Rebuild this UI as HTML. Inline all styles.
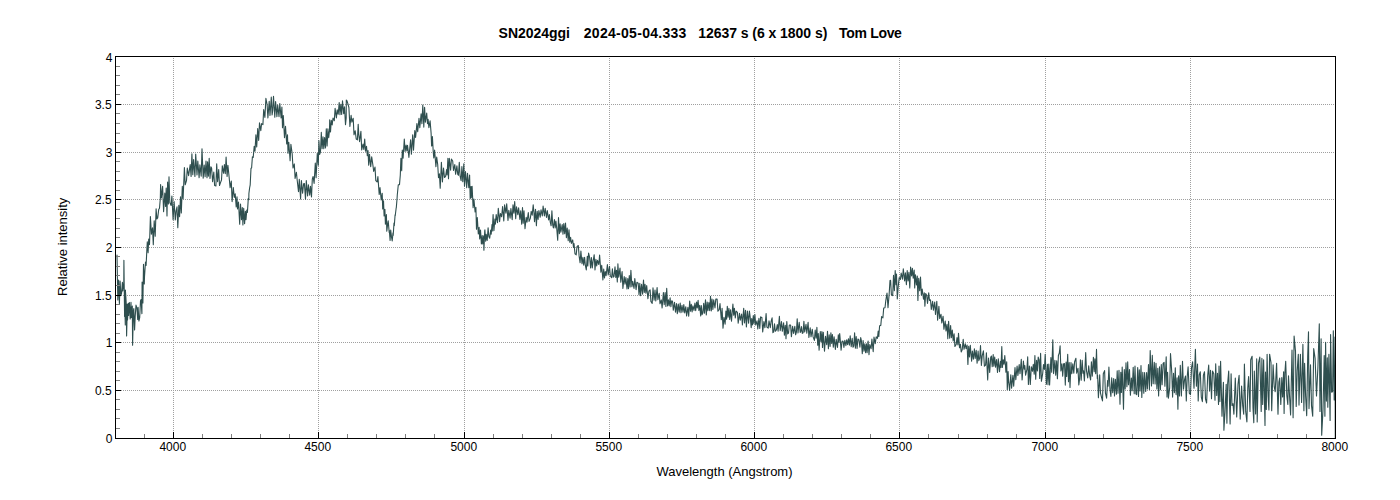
<!DOCTYPE html>
<html><head><meta charset="utf-8"><title>SN2024ggi</title>
<style>html,body{margin:0;padding:0;background:#fff;}body{width:1400px;height:500px;overflow:hidden;font-family:"Liberation Sans",sans-serif;}svg{display:block;}text{font-family:"Liberation Sans",sans-serif;fill:#000;}</style></head><body>
<svg width="1400" height="500" viewBox="0 0 1400 500">
<rect width="1400" height="500" fill="#fff"/>
<g stroke="#a0a0a0" stroke-width="1" stroke-dasharray="1 1" shape-rendering="crispEdges"><line x1="173.5" y1="58" x2="173.5" y2="438" /><line x1="318.5" y1="58" x2="318.5" y2="438" /><line x1="464.5" y1="58" x2="464.5" y2="438" /><line x1="609.5" y1="58" x2="609.5" y2="438" /><line x1="754.5" y1="58" x2="754.5" y2="438" /><line x1="899.5" y1="58" x2="899.5" y2="438" /><line x1="1045.5" y1="58" x2="1045.5" y2="438" /><line x1="1190.5" y1="58" x2="1190.5" y2="438" /><line x1="117" y1="390.5" x2="1335" y2="390.5" /><line x1="117" y1="342.5" x2="1335" y2="342.5" /><line x1="117" y1="295.5" x2="1335" y2="295.5" /><line x1="117" y1="247.5" x2="1335" y2="247.5" /><line x1="117" y1="199.5" x2="1335" y2="199.5" /><line x1="117" y1="152.5" x2="1335" y2="152.5" /><line x1="117" y1="104.5" x2="1335" y2="104.5" /></g>
<path d="M117.0 255.0 L117.8 300.0 L118.6 280.0 L119.4 303.5 L120.1 281.0 L120.9 295.6 L121.6 293.0 L122.4 282.4 L122.8 291.0 L123.8 282.1 L123.9 260.3 L124.6 316.4 L124.7 300.0 L125.3 325.0 L125.4 290.0 L126.3 304.3 L126.6 336.0 L127.4 304.0 L127.5 320.0 L128.5 303.2 L128.6 315.5 L129.4 302.5 L130.2 319.0 L131.0 302.4 L131.3 317.6 L132.3 306.0 L132.6 345.3 L133.4 310.9 L133.8 308.6 L134.6 330.0 L135.2 316.4 L136.0 305.1 L136.9 308.0 L137.7 319.5 L138.1 307.3 L138.9 321.0 L139.7 317.6 L140.5 301.0 L141.1 299.5 L141.9 313.6 L142.1 282.0 L142.9 302.9 L143.5 264.3 L144.3 284.0 L144.5 276.6 L145.5 262.0 L146.1 265.4 L146.9 249.0 L147.3 241.8 L148.1 252.8 L148.7 239.1 L149.5 244.6 L150.4 216.6 L151.4 234.2 L152.5 227.8 L153.3 244.7 L154.2 220.8 L155.2 236.2 L156.1 208.9 L156.9 219.0 L157.7 217.9 L158.7 209.6 L159.5 208.2 L160.3 198.7 L160.6 184.5 L161.4 198.0 L162.6 186.3 L163.6 211.7 L164.8 193.0 L165.6 206.4 L166.2 188.0 L167.0 215.9 L167.6 182.0 L168.4 203.9 L169.0 176.8 L169.8 202.6 L171.1 205.4 L171.9 196.0 L173.1 219.7 L174.1 201.6 L175.3 220.0 L176.1 211.0 L177.0 206.9 L177.8 227.8 L178.8 205.4 L179.6 216.6 L180.5 196.8 L181.3 213.0 L182.3 186.4 L183.1 198.8 L184.4 167.6 L185.2 184.8 L186.5 180.6 L187.3 168.1 L188.6 175.7 L189.4 170.1 L190.2 164.6 L191.1 176.4 L191.9 153.8 L192.8 174.8 L193.6 159.6 L194.9 176.4 L195.7 154.0 L197.0 174.9 L197.8 161.0 L199.1 177.8 L199.9 164.9 L201.2 176.2 L202.0 148.7 L203.2 178.3 L204.2 165.0 L205.1 176.8 L206.0 161.0 L207.0 177.8 L207.6 161.8 L208.4 176.1 L209.2 158.2 L210.0 178.4 L210.9 166.9 L211.6 168.0 L212.6 181.8 L213.8 172.0 L214.6 185.5 L215.9 186.0 L216.7 163.8 L217.6 181.8 L218.7 169.6 L219.5 185.5 L220.6 182.4 L221.5 180.0 L222.3 165.9 L223.6 173.3 L224.4 164.5 L225.3 173.6 L226.1 157.1 L227.1 176.4 L227.9 165.2 L229.1 176.8 L230.1 187.6 L231.3 181.1 L232.1 201.6 L233.3 187.6 L234.3 197.4 L235.2 193.8 L236.2 207.0 L237.0 196.8 L237.5 208.9 L238.5 202.0 L239.7 224.2 L240.5 204.0 L241.5 219.8 L242.3 207.5 L242.9 225.0 L243.7 208.2 L244.6 223.6 L245.4 211.4 L246.0 219.8 L246.8 210.0 L247.4 212.4 L248.1 201.6 L248.2 198.6 L248.8 199.7 L248.9 193.5 L249.6 188.0 L250.2 184.8 L251.0 168.3 L251.6 168.0 L252.4 156.8 L253.2 157.5 L254.2 146.2 L255.0 151.3 L255.9 134.8 L256.7 147.0 L257.7 128.6 L258.7 140.4 L259.5 122.9 L260.8 130.6 L261.6 123.6 L262.9 124.7 L263.7 109.6 L264.9 117.5 L265.9 98.4 L267.1 104.5 L267.9 118.0 L269.2 101.2 L270.0 115.4 L271.3 97.0 L272.1 114.9 L272.7 110.7 L273.5 96.3 L274.8 117.3 L275.6 101.6 L276.9 116.6 L277.7 105.1 L279.0 116.6 L279.8 103.6 L281.1 118.0 L281.9 107.1 L282.5 127.8 L283.3 115.5 L284.5 137.6 L285.5 126.4 L286.7 143.9 L287.5 134.8 L288.0 153.3 L288.8 142.3 L290.1 160.8 L290.9 144.2 L292.2 154.0 L293.0 168.0 L294.3 163.9 L295.1 178.5 L296.4 172.2 L297.2 180.3 L298.5 191.8 L299.3 179.4 L300.6 198.9 L301.4 180.6 L302.6 193.2 L303.6 183.8 L304.4 183.5 L305.5 199.1 L306.3 180.6 L307.6 195.9 L308.4 184.8 L309.7 195.2 L310.5 186.2 L311.5 197.0 L312.3 179.2 L313.1 176.5 L314.1 183.4 L315.3 163.1 L316.1 177.6 L317.3 153.4 L318.3 165.2 L318.9 140.5 L319.7 154.4 L320.5 151.9 L321.3 132.4 L322.1 148.8 L323.0 136.7 L323.8 148.6 L324.6 137.6 L325.5 147.9 L326.3 128.8 L327.1 146.0 L327.9 128.9 L328.7 137.6 L329.5 130.6 L329.7 119.8 L330.5 132.0 L331.3 120.4 L332.2 125.0 L333.0 118.0 L334.3 120.8 L335.1 108.4 L336.4 118.0 L337.2 109.9 L338.2 114.3 L339.2 102.6 L340.0 114.8 L340.8 104.3 L341.7 114.5 L342.5 100.7 L343.7 113.8 L344.5 106.9 L345.5 124.7 L346.2 117.8 L346.3 100.0 L347.0 100.9 L348.0 104.2 L348.9 107.5 L349.9 126.4 L351.1 115.2 L351.9 122.2 L353.2 118.2 L354.0 134.8 L355.2 130.7 L356.2 139.0 L357.4 139.9 L358.2 124.3 L358.8 134.8 L359.6 141.6 L360.9 131.3 L361.7 149.9 L363.0 144.0 L363.8 149.5 L364.7 139.0 L365.5 151.2 L366.5 146.3 L367.3 155.8 L368.0 150.6 L368.7 165.2 L369.5 154.4 L370.7 166.6 L371.7 156.8 L372.9 165.2 L373.7 171.4 L375.0 167.1 L375.8 180.6 L377.1 182.0 L377.9 176.5 L379.2 194.4 L380.0 187.6 L381.2 200.0 L382.2 193.2 L382.7 209.0 L383.5 200.7 L384.1 216.0 L384.9 209.2 L385.4 224.2 L386.4 214.6 L386.8 231.2 L387.8 223.0 L388.2 220.9 L389.2 232.4 L389.3 230.3 L390.1 240.5 L390.7 230.0 L391.5 236.9 L392.2 240.9 L393.0 232.9 L393.2 235.5 L394.0 223.0 L394.3 225.8 L395.1 214.8 L395.2 216.0 L396.2 207.8 L396.3 207.8 L397.1 198.0 L397.3 194.7 L398.3 184.8 L399.5 184.6 L400.3 175.0 L400.9 158.4 L401.7 170.8 L402.3 150.0 L403.1 158.1 L404.3 139.0 L405.1 151.4 L406.1 145.1 L406.9 151.0 L407.5 145.4 L408.3 151.6 L408.9 157.5 L409.7 149.0 L410.6 139.7 L411.4 154.3 L412.7 134.8 L413.5 150.1 L414.8 130.6 L415.6 137.4 L416.9 123.6 L417.7 131.8 L419.0 118.2 L419.8 127.8 L421.1 113.9 L421.9 123.6 L422.8 105.0 L423.8 127.1 L424.6 107.2 L425.4 122.2 L426.7 113.1 L427.5 123.6 L428.1 119.4 L428.9 127.6 L430.1 120.8 L431.1 133.1 L431.6 146.0 L432.4 144.2 L432.4 136.5 L433.2 151.2 L433.8 157.9 L434.6 150.0 L435.9 166.6 L436.7 157.1 L437.7 164.5 L438.5 177.7 L439.4 173.9 L440.2 188.3 L441.4 162.2 L442.4 182.0 L443.5 168.0 L444.5 177.5 L445.6 176.4 L446.6 169.6 L447.1 175.0 L447.9 158.2 L448.5 178.8 L449.3 158.2 L450.6 170.1 L451.4 159.1 L452.7 161.0 L453.5 170.5 L454.8 164.5 L455.6 174.3 L456.9 165.9 L457.7 174.2 L458.4 175.3 L459.3 162.4 L460.1 176.2 L461.1 180.6 L461.9 166.6 L462.8 181.8 L463.8 163.8 L464.5 186.1 L465.5 171.5 L466.7 187.6 L467.5 173.4 L468.8 187.8 L469.6 175.0 L470.2 198.8 L471.0 186.5 L471.3 197.7 L472.1 186.2 L473.1 207.6 L473.9 199.1 L475.1 211.9 L475.9 207.4 L476.5 229.3 L477.3 217.5 L478.3 234.0 L479.1 227.2 L479.7 238.9 L480.5 230.0 L481.4 243.9 L482.2 235.6 L482.7 244.0 L483.7 235.7 L483.9 250.3 L484.7 231.4 L484.9 229.7 L485.7 241.2 L486.2 234.4 L487.2 240.5 L488.1 227.9 L488.9 236.8 L489.7 238.2 L490.7 230.0 L491.2 234.2 L492.0 224.6 L492.3 231.0 L493.1 214.6 L493.9 230.7 L494.9 219.0 L495.4 224.1 L496.2 214.6 L497.5 222.7 L498.3 208.3 L499.6 221.6 L500.4 213.5 L501.6 216.7 L502.6 206.5 L503.8 220.9 L504.6 204.8 L505.9 213.2 L506.7 203.7 L508.0 220.5 L508.8 210.4 L510.1 218.1 L510.9 208.6 L512.2 219.7 L513.0 204.8 L513.9 213.2 L514.7 201.5 L515.7 218.8 L516.5 206.9 L517.8 214.6 L518.6 207.8 L519.9 219.5 L520.7 210.7 L521.7 224.1 L522.5 207.6 L523.2 223.3 L524.0 210.9 L525.0 228.6 L526.2 217.4 L527.0 222.2 L528.3 212.5 L529.1 221.4 L530.4 218.1 L531.2 211.3 L532.2 215.1 L533.2 204.8 L534.0 213.1 L534.5 221.6 L535.5 209.3 L536.4 225.8 L537.2 211.2 L538.1 219.5 L538.9 210.5 L540.2 217.3 L541.0 209.7 L542.3 216.0 L543.1 206.1 L544.4 215.9 L545.2 208.3 L546.5 217.4 L547.3 210.5 L548.6 220.0 L549.4 214.6 L550.2 221.8 L551.1 225.8 L551.9 210.9 L552.7 224.9 L553.4 227.9 L554.4 219.6 L555.2 227.9 L555.9 221.0 L556.7 228.0 L557.7 240.2 L558.5 217.5 L559.4 233.7 L560.1 223.8 L560.9 232.2 L562.2 224.5 L563.0 234.1 L563.8 223.6 L564.7 233.6 L565.5 223.1 L566.4 237.8 L567.2 228.0 L568.2 240.6 L569.0 229.7 L569.8 242.1 L570.6 237.3 L571.4 243.4 L572.7 239.9 L573.5 247.5 L574.0 243.5 L575.0 253.9 L576.2 254.8 L577.0 246.6 L578.3 245.5 L579.1 255.9 L580.1 262.8 L580.9 251.0 L582.0 263.8 L582.9 257.4 L583.7 265.1 L584.6 257.4 L585.4 265.7 L586.3 269.9 L587.3 256.2 L587.8 266.0 L588.6 253.0 L589.6 257.4 L590.6 268.0 L591.4 257.5 L592.3 268.0 L593.1 261.0 L594.2 254.7 L595.0 270.0 L595.9 259.3 L596.7 265.9 L597.5 260.3 L598.8 264.5 L599.6 255.1 L600.9 272.3 L601.7 265.4 L602.9 280.0 L603.7 269.1 L604.5 277.9 L605.3 271.6 L606.1 275.7 L607.4 264.6 L608.2 274.9 L609.5 266.3 L610.3 275.8 L611.6 277.7 L612.4 268.8 L613.2 277.2 L614.0 276.5 L615.0 266.9 L615.8 277.4 L616.5 270.2 L617.3 281.9 L617.9 263.7 L618.7 277.2 L620.0 268.1 L620.8 282.3 L622.1 271.6 L622.9 288.4 L624.2 276.5 L625.0 284.2 L625.9 277.6 L627.0 289.0 L627.8 278.6 L628.5 288.6 L629.3 275.6 L630.1 287.0 L630.9 270.2 L631.9 286.8 L632.7 281.4 L634.0 288.4 L634.8 278.6 L636.1 289.8 L636.9 282.2 L638.2 283.2 L639.0 294.7 L639.8 283.3 L640.6 295.8 L641.6 284.2 L642.6 294.1 L643.5 280.0 L644.3 292.4 L645.0 284.4 L645.9 293.3 L646.7 285.6 L647.9 298.7 L648.9 291.2 L650.1 289.8 L650.9 301.4 L652.2 303.4 L653.0 287.7 L654.1 300.3 L655.0 290.1 L655.8 301.0 L657.1 287.5 L657.9 299.6 L659.2 293.3 L660.0 303.8 L661.3 299.9 L662.1 308.0 L663.4 292.6 L664.2 304.8 L665.1 292.6 L665.9 306.4 L666.7 288.4 L667.6 305.9 L668.4 299.8 L669.2 306.0 L670.1 297.8 L670.9 306.6 L671.7 300.7 L672.5 301.2 L673.3 310.1 L674.5 302.4 L675.5 312.1 L676.5 303.5 L677.3 313.6 L678.3 304.1 L679.2 312.2 L680.2 303.1 L681.0 312.6 L682.0 305.4 L683.0 312.1 L683.8 304.5 L684.7 312.9 L685.8 306.7 L686.6 316.0 L687.9 307.3 L688.7 316.3 L689.7 301.0 L690.5 311.1 L691.3 304.3 L692.1 312.0 L692.9 305.9 L694.0 310.4 L694.9 303.1 L695.7 310.7 L696.6 302.1 L697.3 308.0 L698.1 300.4 L698.9 310.5 L699.7 305.4 L700.7 315.9 L701.3 305.5 L702.1 314.6 L702.9 312.9 L703.7 303.3 L704.5 313.1 L705.5 299.8 L706.3 315.0 L707.2 302.1 L707.9 310.8 L708.9 302.6 L709.7 310.7 L710.5 296.4 L711.3 311.0 L712.0 299.1 L712.9 309.5 L713.7 299.8 L715.0 308.0 L715.8 299.1 L717.1 299.1 L717.9 311.2 L719.2 309.6 L720.0 303.5 L721.3 319.7 L722.1 308.2 L723.0 328.2 L724.0 317.3 L725.1 324.1 L725.9 311.0 L726.6 319.3 L727.3 306.2 L728.1 317.3 L728.9 308.2 L729.7 319.4 L730.5 309.9 L731.5 321.2 L732.3 311.0 L732.9 304.0 L733.7 315.2 L734.4 308.3 L735.3 318.0 L736.1 311.0 L737.4 312.4 L738.2 323.2 L739.5 313.3 L740.3 320.1 L741.6 314.0 L742.4 325.0 L743.7 308.3 L744.5 322.9 L745.5 310.4 L746.4 326.9 L747.4 311.0 L748.6 323.2 L749.4 311.0 L750.2 317.3 L751.2 327.6 L751.7 318.6 L752.5 325.0 L753.3 315.5 L754.0 323.7 L754.9 314.5 L755.7 325.0 L757.0 320.8 L757.8 329.0 L758.9 318.4 L759.8 328.5 L760.6 316.9 L761.9 317.5 L762.7 332.0 L763.9 321.5 L764.9 327.8 L766.1 313.6 L766.9 327.1 L768.2 328.2 L769.0 320.8 L770.3 327.7 L771.1 321.5 L772.1 317.9 L772.9 332.7 L773.7 331.9 L774.5 323.7 L775.3 331.3 L776.4 329.9 L777.3 324.5 L778.1 331.3 L779.4 316.4 L780.2 330.6 L781.5 321.6 L782.3 331.3 L783.6 322.9 L784.4 335.1 L785.3 325.2 L786.0 338.8 L786.8 321.5 L787.7 333.9 L788.5 333.2 L789.3 325.0 L790.6 325.0 L791.4 336.6 L792.6 326.4 L793.6 333.4 L794.8 326.4 L795.6 334.8 L796.4 332.2 L797.2 318.7 L798.0 333.0 L799.2 322.2 L800.2 332.4 L800.8 331.4 L801.5 326.6 L802.3 333.4 L803.1 332.8 L803.9 321.2 L804.7 332.0 L806.0 324.3 L806.8 333.3 L808.1 322.2 L808.9 337.4 L810.2 327.8 L811.0 336.8 L812.3 329.2 L813.1 336.9 L814.4 340.4 L815.2 330.0 L816.1 338.3 L816.9 327.4 L817.7 345.3 L818.3 333.6 L819.1 350.2 L820.3 331.5 L821.1 341.8 L821.9 331.5 L822.5 347.4 L823.3 332.3 L824.5 351.2 L825.5 336.2 L826.7 344.6 L827.5 331.4 L828.4 348.8 L829.2 334.9 L830.1 346.5 L830.9 332.7 L831.7 343.5 L832.4 334.5 L833.3 347.1 L834.1 336.9 L835.4 349.5 L836.2 339.4 L837.5 347.4 L838.3 334.9 L838.9 342.2 L839.7 333.6 L840.3 340.4 L841.1 350.1 L842.1 341.0 L843.1 341.2 L843.9 347.4 L844.8 340.2 L845.9 345.7 L846.7 339.7 L847.6 344.6 L848.5 338.7 L849.4 345.3 L850.2 335.7 L851.2 346.7 L852.2 338.3 L853.0 347.2 L853.8 346.0 L854.6 332.7 L855.4 348.1 L856.2 336.5 L857.1 348.5 L857.9 339.0 L858.9 339.7 L859.9 347.2 L860.7 337.6 L861.4 340.7 L862.3 353.7 L863.1 340.5 L864.0 351.1 L864.8 343.9 L865.6 352.8 L866.4 343.8 L867.1 352.8 L868.1 341.1 L869.0 354.8 L869.8 344.6 L871.1 348.8 L871.9 339.0 L873.2 351.6 L874.0 337.1 L875.2 343.7 L876.2 336.9 L877.4 338.3 L878.2 331.0 L878.8 336.6 L879.6 325.7 L880.8 325.4 L881.6 316.5 L882.9 317.9 L883.7 308.0 L885.0 307.8 L885.8 300.6 L887.0 293.0 L888.0 307.6 L889.2 293.5 L890.0 280.5 L890.6 280.3 L891.4 294.7 L892.7 295.6 L893.5 275.4 L894.4 290.6 L895.2 270.5 L896.0 284.7 L896.5 274.0 L897.3 299.0 L898.2 286.6 L899.2 277.5 L900.4 279.5 L901.2 273.0 L902.5 279.2 L903.3 268.7 L904.6 281.0 L905.4 272.9 L906.4 284.8 L907.2 270.5 L908.1 281.0 L908.9 272.2 L909.8 287.9 L910.6 267.0 L911.6 276.0 L912.4 268.4 L913.2 278.2 L914.2 270.0 L914.7 287.9 L915.5 274.7 L916.5 285.0 L917.3 276.1 L917.9 300.4 L918.7 278.2 L919.7 290.8 L920.5 277.1 L921.4 295.3 L922.2 289.0 L923.5 299.1 L924.3 292.9 L924.9 306.2 L925.7 293.6 L926.7 295.2 L927.5 303.4 L928.7 292.9 L929.5 300.5 L930.5 299.9 L931.3 309.5 L932.6 301.3 L933.4 310.1 L934.7 302.0 L935.5 314.5 L936.8 301.3 L937.6 320.2 L938.9 306.2 L939.7 318.5 L941.0 314.2 L941.8 323.0 L943.1 316.2 L943.9 329.3 L945.2 321.0 L946.0 331.0 L947.0 324.3 L947.8 338.8 L948.6 321.3 L949.7 338.3 L950.6 325.5 L951.4 337.8 L952.3 330.1 L953.2 341.0 L954.1 333.7 L954.9 346.5 L956.2 344.4 L957.0 337.5 L957.9 345.0 L958.5 333.2 L959.5 347.8 L960.4 344.4 L961.2 351.9 L962.2 349.8 L963.2 339.2 L964.0 349.3 L965.3 343.9 L966.1 348.6 L967.1 345.1 L967.9 364.4 L968.7 346.2 L969.5 357.0 L970.3 345.3 L971.6 361.2 L972.4 351.0 L973.4 359.2 L974.4 348.8 L975.2 358.4 L976.2 350.3 L977.1 363.3 L978.1 351.0 L978.8 360.6 L979.7 358.4 L980.5 345.6 L981.4 365.4 L982.2 355.9 L983.4 350.8 L984.4 366.1 L985.6 365.0 L986.4 352.8 L987.7 379.9 L988.5 358.0 L989.7 372.4 L990.7 357.2 L991.4 356.0 L992.2 366.8 L993.2 354.6 L993.8 366.2 L994.7 357.0 L995.5 367.1 L996.5 359.5 L997.5 372.4 L998.3 358.9 L999.5 371.7 L1000.5 361.4 L1001.0 367.5 L1001.8 346.5 L1002.4 367.5 L1003.2 359.8 L1004.0 364.3 L1004.8 355.5 L1005.9 372.3 L1006.7 361.7 L1007.3 389.7 L1008.1 371.5 L1008.6 381.0 L1009.6 390.4 L1010.8 374.8 L1011.6 388.3 L1012.9 375.4 L1013.7 386.2 L1015.0 367.5 L1015.8 379.8 L1017.1 366.1 L1017.9 375.4 L1019.2 364.6 L1020.0 373.7 L1021.3 359.4 L1022.1 380.0 L1023.4 361.1 L1024.2 369.2 L1024.8 365.5 L1025.6 375.1 L1026.9 369.3 L1027.7 356.9 L1028.4 384.5 L1029.4 366.1 L1030.3 384.5 L1031.3 366.7 L1032.5 371.3 L1033.3 364.3 L1034.2 374.3 L1034.9 355.5 L1035.7 379.2 L1036.6 360.3 L1037.4 370.9 L1038.2 357.1 L1039.1 360.0 L1039.7 378.5 L1040.6 353.4 L1041.4 381.3 L1042.7 373.5 L1043.5 364.6 L1044.4 369.5 L1045.2 354.4 L1046.4 384.2 L1047.4 364.3 L1048.0 384.7 L1048.8 364.1 L1049.6 384.9 L1050.9 357.5 L1051.7 372.3 L1052.8 339.7 L1053.6 373.6 L1054.9 360.3 L1055.7 375.1 L1056.7 360.8 L1057.4 378.7 L1058.4 355.5 L1059.3 353.0 L1060.1 345.9 L1060.9 370.9 L1061.9 363.9 L1062.7 376.3 L1063.6 363.7 L1064.5 363.5 L1065.3 385.1 L1066.1 362.1 L1066.7 376.5 L1067.7 354.3 L1068.5 381.8 L1069.2 362.5 L1070.0 387.4 L1071.0 362.6 L1071.8 373.6 L1072.8 363.8 L1073.8 373.3 L1074.6 361.7 L1075.9 358.3 L1076.7 373.2 L1078.0 368.2 L1078.8 384.9 L1079.6 378.9 L1080.4 359.7 L1081.2 380.3 L1082.2 360.3 L1083.0 373.2 L1083.6 370.9 L1084.4 381.0 L1085.7 352.6 L1086.5 370.9 L1087.7 378.0 L1088.7 365.8 L1089.7 375.7 L1090.6 380.0 L1091.4 361.7 L1092.3 376.3 L1093.4 357.3 L1094.2 371.8 L1094.9 358.9 L1095.7 373.6 L1096.5 349.4 L1097.3 378.5 L1097.6 375.0 L1098.4 397.7 L1099.7 374.9 L1100.5 393.2 L1101.6 397.7 L1102.5 400.9 L1103.3 373.7 L1104.6 370.6 L1105.4 392.8 L1106.6 398.1 L1107.6 380.6 L1108.1 386.2 L1108.9 367.1 L1110.0 389.4 L1110.9 396.4 L1111.7 377.8 L1112.7 392.7 L1113.7 378.5 L1114.5 396.0 L1115.4 379.4 L1116.4 394.3 L1117.2 370.7 L1118.0 393.2 L1119.0 370.2 L1120.0 404.2 L1120.8 372.2 L1121.4 392.4 L1122.2 367.0 L1123.5 409.3 L1124.3 369.5 L1125.2 389.0 L1126.0 362.7 L1126.9 386.8 L1127.7 361.9 L1128.5 384.8 L1129.5 369.6 L1130.4 395.3 L1131.4 378.0 L1132.2 390.7 L1133.2 367.3 L1134.2 393.7 L1135.0 366.0 L1135.9 393.9 L1136.7 394.6 L1137.7 367.5 L1138.5 396.5 L1139.3 369.8 L1140.1 391.0 L1141.0 365.5 L1141.8 397.4 L1142.8 372.4 L1143.8 393.2 L1144.6 372.5 L1145.7 391.5 L1146.6 372.5 L1147.4 389.0 L1148.5 364.6 L1149.4 389.5 L1150.2 350.5 L1151.5 385.9 L1152.3 355.4 L1153.2 383.8 L1154.3 362.4 L1155.1 384.0 L1156.0 363.3 L1156.9 388.9 L1157.8 368.3 L1158.6 396.0 L1159.5 366.7 L1160.4 389.7 L1161.3 364.5 L1162.1 384.8 L1163.1 363.4 L1164.1 362.4 L1164.9 386.2 L1166.2 356.8 L1167.0 397.0 L1167.6 372.2 L1168.4 398.2 L1169.7 387.6 L1170.5 353.5 L1171.8 372.9 L1172.6 397.1 L1173.5 373.4 L1174.4 392.6 L1175.3 367.7 L1176.1 394.6 L1177.1 377.8 L1177.9 409.3 L1178.6 375.7 L1179.5 396.0 L1180.3 365.4 L1181.4 396.0 L1182.5 361.2 L1183.5 389.1 L1184.6 379.3 L1185.5 376.0 L1186.3 400.9 L1187.2 376.7 L1188.1 366.8 L1189.3 393.1 L1190.5 394.6 L1191.5 367.9 L1192.6 361.9 L1194.0 388.3 L1195.4 349.3 L1196.4 386.1 L1197.5 364.0 L1198.2 400.9 L1199.2 374.9 L1200.3 371.7 L1201.3 397.2 L1202.4 401.6 L1203.4 375.1 L1204.5 371.7 L1205.5 399.2 L1206.6 403.0 L1207.7 375.6 L1208.7 365.1 L1209.6 391.1 L1210.5 370.3 L1211.5 398.8 L1212.5 371.0 L1213.8 373.7 L1215.0 400.2 L1215.7 363.7 L1216.7 395.5 L1217.5 373.4 L1218.5 404.4 L1219.0 366.1 L1219.9 401.6 L1220.6 361.2 L1222.0 416.3 L1223.4 382.2 L1223.9 430.3 L1225.0 412.0 L1226.2 384.3 L1226.9 423.3 L1227.7 383.1 L1228.7 371.0 L1230.1 424.0 L1231.1 373.8 L1232.0 405.4 L1233.0 403.7 L1233.9 414.2 L1235.3 378.0 L1236.7 417.0 L1238.0 384.4 L1239.1 375.2 L1240.2 419.1 L1241.6 386.0 L1242.7 405.7 L1243.7 414.2 L1244.4 364.0 L1245.7 411.4 L1246.9 421.9 L1247.8 387.6 L1248.6 376.6 L1250.0 411.4 L1250.7 359.8 L1252.1 356.3 L1253.0 408.0 L1253.8 422.6 L1254.3 371.0 L1255.6 414.0 L1256.7 358.7 L1257.2 421.9 L1258.5 363.2 L1259.8 357.0 L1261.2 411.4 L1261.9 358.4 L1262.7 404.4 L1263.6 359.8 L1265.0 425.4 L1265.5 372.0 L1266.3 409.4 L1267.1 354.2 L1268.1 396.3 L1268.9 410.0 L1269.6 354.2 L1271.0 362.6 L1271.7 410.7 L1273.1 364.7 L1274.2 386.3 L1275.2 391.8 L1276.6 363.3 L1278.0 414.2 L1278.9 382.1 L1279.7 378.0 L1280.8 404.4 L1281.8 377.5 L1282.6 396.9 L1283.6 371.7 L1284.1 413.5 L1284.9 373.1 L1285.7 361.2 L1286.8 395.1 L1287.8 404.4 L1288.5 375.9 L1289.5 395.2 L1290.6 414.9 L1292.0 350.0 L1293.1 417.7 L1294.1 336.0 L1295.5 351.4 L1296.2 406.5 L1297.2 370.6 L1298.3 354.2 L1299.0 405.1 L1300.4 354.2 L1301.6 402.5 L1302.9 344.4 L1303.9 410.7 L1304.6 363.3 L1305.6 395.8 L1306.7 415.6 L1307.7 356.3 L1308.5 331.8 L1309.0 408.6 L1310.5 364.7 L1311.5 405.6 L1312.7 416.3 L1313.7 348.6 L1315.1 358.4 L1316.5 396.0 L1317.9 367.5 L1319.3 323.7 L1320.0 411.4 L1321.1 338.8 L1321.7 435.2 L1323.0 410.0 L1324.2 355.6 L1324.9 416.3 L1325.6 342.3 L1326.4 401.1 L1327.3 357.7 L1327.8 407.2 L1328.9 354.2 L1330.1 420.5 L1330.6 334.6 L1331.6 392.1 L1332.6 391.8 L1333.3 330.7 L1334.2 400.0 L1334.7 400.0 L1335.0 337.0 L1335.3 438.0" fill="none" stroke="#2f4f4f" stroke-width="1.1" stroke-linejoin="round" stroke-linecap="round"/>
<g fill="#808080" shape-rendering="crispEdges"><rect x="144" y="434" width="1" height="4"/><rect x="202" y="434" width="1" height="4"/><rect x="231" y="434" width="1" height="4"/><rect x="260" y="434" width="1" height="4"/><rect x="289" y="434" width="1" height="4"/><rect x="347" y="434" width="1" height="4"/><rect x="376" y="434" width="1" height="4"/><rect x="405" y="434" width="1" height="4"/><rect x="434" y="434" width="1" height="4"/><rect x="493" y="434" width="1" height="4"/><rect x="522" y="434" width="1" height="4"/><rect x="551" y="434" width="1" height="4"/><rect x="580" y="434" width="1" height="4"/><rect x="638" y="434" width="1" height="4"/><rect x="667" y="434" width="1" height="4"/><rect x="696" y="434" width="1" height="4"/><rect x="725" y="434" width="1" height="4"/><rect x="783" y="434" width="1" height="4"/><rect x="812" y="434" width="1" height="4"/><rect x="841" y="434" width="1" height="4"/><rect x="870" y="434" width="1" height="4"/><rect x="928" y="434" width="1" height="4"/><rect x="958" y="434" width="1" height="4"/><rect x="987" y="434" width="1" height="4"/><rect x="1016" y="434" width="1" height="4"/><rect x="1074" y="434" width="1" height="4"/><rect x="1103" y="434" width="1" height="4"/><rect x="1132" y="434" width="1" height="4"/><rect x="1161" y="434" width="1" height="4"/><rect x="1219" y="434" width="1" height="4"/><rect x="1248" y="434" width="1" height="4"/><rect x="1277" y="434" width="1" height="4"/><rect x="1306" y="434" width="1" height="4"/><rect x="116" y="428" width="4" height="1"/><rect x="116" y="418" width="4" height="1"/><rect x="116" y="409" width="4" height="1"/><rect x="116" y="399" width="4" height="1"/><rect x="116" y="380" width="4" height="1"/><rect x="116" y="371" width="4" height="1"/><rect x="116" y="361" width="4" height="1"/><rect x="116" y="352" width="4" height="1"/><rect x="116" y="333" width="4" height="1"/><rect x="116" y="323" width="4" height="1"/><rect x="116" y="314" width="4" height="1"/><rect x="116" y="304" width="4" height="1"/><rect x="116" y="285" width="4" height="1"/><rect x="116" y="275" width="4" height="1"/><rect x="116" y="266" width="4" height="1"/><rect x="116" y="256" width="4" height="1"/><rect x="116" y="237" width="4" height="1"/><rect x="116" y="228" width="4" height="1"/><rect x="116" y="218" width="4" height="1"/><rect x="116" y="209" width="4" height="1"/><rect x="116" y="190" width="4" height="1"/><rect x="116" y="180" width="4" height="1"/><rect x="116" y="171" width="4" height="1"/><rect x="116" y="161" width="4" height="1"/><rect x="116" y="142" width="4" height="1"/><rect x="116" y="133" width="4" height="1"/><rect x="116" y="123" width="4" height="1"/><rect x="116" y="113" width="4" height="1"/><rect x="116" y="94" width="4" height="1"/><rect x="116" y="85" width="4" height="1"/><rect x="116" y="75" width="4" height="1"/><rect x="116" y="66" width="4" height="1"/></g>
<g fill="#000" shape-rendering="crispEdges"><rect x="173" y="432" width="1" height="6"/><rect x="318" y="432" width="1" height="6"/><rect x="464" y="432" width="1" height="6"/><rect x="609" y="432" width="1" height="6"/><rect x="754" y="432" width="1" height="6"/><rect x="899" y="432" width="1" height="6"/><rect x="1045" y="432" width="1" height="6"/><rect x="1190" y="432" width="1" height="6"/><rect x="1335" y="432" width="1" height="6"/><rect x="116" y="438" width="5" height="1"/><rect x="116" y="390" width="5" height="1"/><rect x="116" y="342" width="5" height="1"/><rect x="116" y="295" width="5" height="1"/><rect x="116" y="247" width="5" height="1"/><rect x="116" y="199" width="5" height="1"/><rect x="116" y="152" width="5" height="1"/><rect x="116" y="104" width="5" height="1"/><rect x="116" y="56" width="5" height="1"/><rect x="115" y="56" width="1221" height="1"/><rect x="115" y="438" width="1221" height="1"/><rect x="115" y="56" width="1" height="383"/><rect x="1335" y="56" width="1" height="383"/></g>
<g font-size="12"><text x="172.8" y="451.4" text-anchor="middle">4000</text><text x="317.8" y="451.4" text-anchor="middle">4500</text><text x="463.8" y="451.4" text-anchor="middle">5000</text><text x="608.8" y="451.4" text-anchor="middle">5500</text><text x="753.8" y="451.4" text-anchor="middle">6000</text><text x="898.8" y="451.4" text-anchor="middle">6500</text><text x="1044.8" y="451.4" text-anchor="middle">7000</text><text x="1189.8" y="451.4" text-anchor="middle">7500</text><text x="1334.8" y="451.4" text-anchor="middle">8000</text><text x="112.5" y="442.8" text-anchor="end">0</text><text x="111.6" y="394.8" text-anchor="end">0.5</text><text x="112.5" y="346.8" text-anchor="end">1</text><text x="111.6" y="299.8" text-anchor="end">1.5</text><text x="112.5" y="251.8" text-anchor="end">2</text><text x="111.6" y="203.8" text-anchor="end">2.5</text><text x="112.5" y="156.8" text-anchor="end">3</text><text x="111.6" y="108.8" text-anchor="end">3.5</text><text x="112.5" y="61.8" text-anchor="end">4</text></g>
<text x="724.5" y="475.6" font-size="13" text-anchor="middle">Wavelength (Angstrom)</text>
<text transform="translate(67.3,246.8) rotate(-90)" font-size="13" text-anchor="middle">Relative intensity</text>
<g font-size="14" font-weight="bold"><text x="498.6" y="37.6" textLength="71.2" lengthAdjust="spacing">SN2024ggi</text><text x="583.8" y="37.6" textLength="102.6" lengthAdjust="spacing">2024-05-04.333</text><text x="698.2" y="37.6" textLength="129.1" lengthAdjust="spacing">12637 s (6 x 1800 s)</text><text x="839" y="37.6" textLength="62.9" lengthAdjust="spacing">Tom Love</text></g>
</svg></body></html>
